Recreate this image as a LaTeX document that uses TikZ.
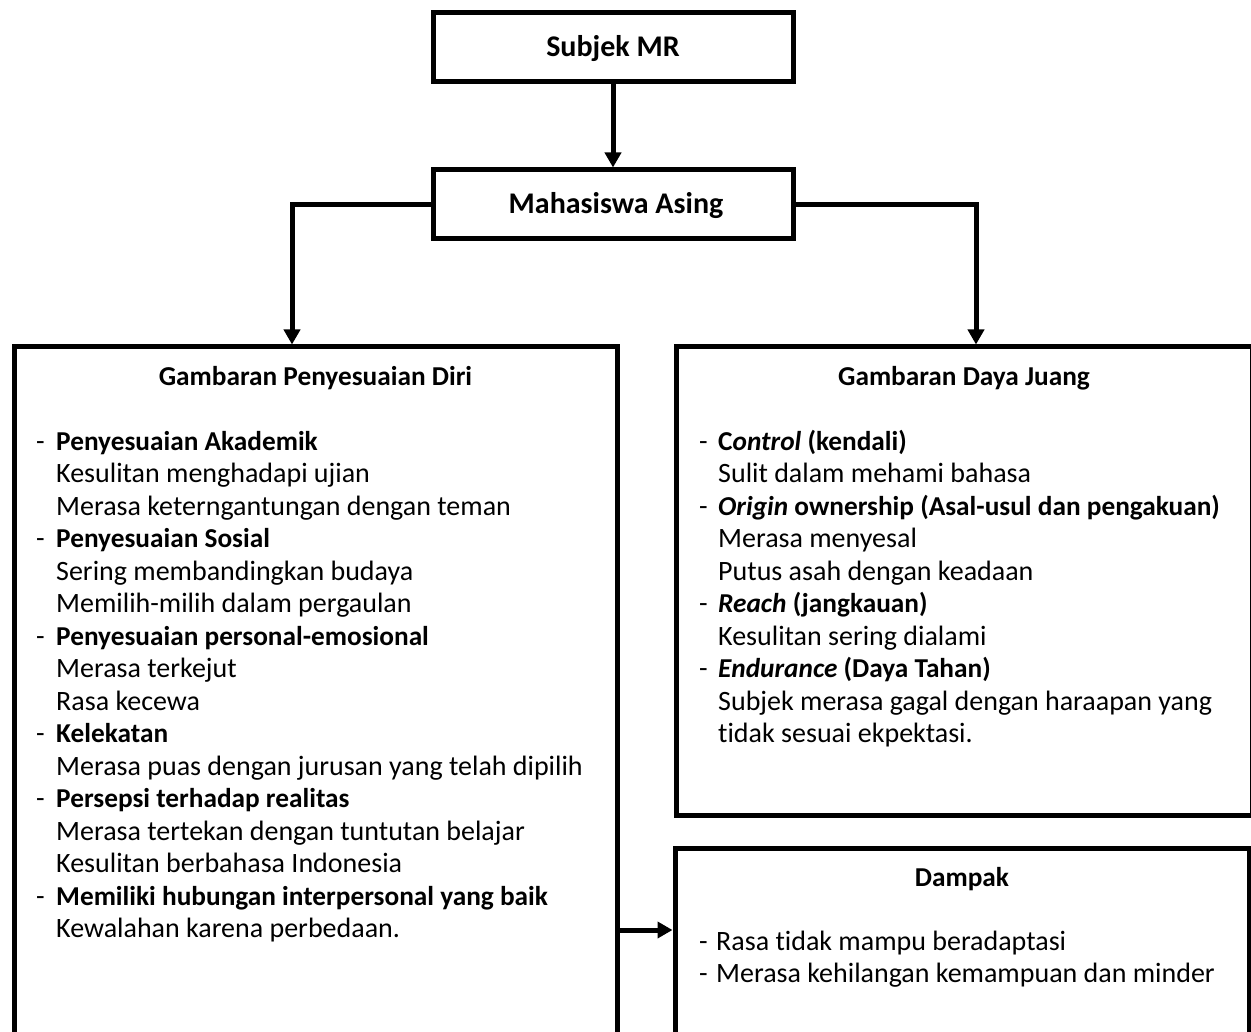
\documentclass[tikz,border=0pt]{standalone}
\usepackage{fontspec}
\setmainfont[Ligatures=NoCommon]{Carlito}
\usetikzlibrary{arrows.meta}
\newcommand\bitem[1]{{\fontsize{27.3}{32.5}\selectfont\bfseries #1}}
\begin{document}
\begin{tikzpicture}[x=1pt,y=1pt,
  box/.style={draw=black, line width=5pt, fill=white, inner sep=0pt},
  arr/.style={line width=5pt, -{Triangle[length=15pt,width=16pt]}},
  txt/.style={anchor=base west, inner sep=0pt, font=\fontsize{28}{32.5}\selectfont},
  ttl/.style={anchor=base, inner sep=0pt, font=\fontsize{27.3}{32.5}\selectfont\bfseries},
  top/.style={anchor=base, inner sep=0pt, font=\fontsize{30}{32.5}\selectfont\bfseries}]
\useasboundingbox (0,0) rectangle (1251,-1032);
\clip (0,0) rectangle (1251,-1032);
\fill[white] (0,0) rectangle (1251,-1032);
% boxes
\node[box, minimum width=360pt, minimum height=69pt] (s) at (613,-47.5) {};
\node[box, minimum width=360pt, minimum height=69pt] (m) at (613,-204.5) {};
\node[box, minimum width=603pt, minimum height=698pt] (lb) at (315.5,-696) {};
\node[box, minimum width=576pt, minimum height=468pt] (rb) at (964,-581) {};
\node[box, minimum width=574pt, minimum height=197pt] (db) at (962,-946.5) {};
% titles
\node[top] (st) at (613,-57) {Subjek MR};
\node[top] (mt) at (616,-214) {Mahasiswa Asing};
\node[ttl] (lt) at (315.5,-385) {Gambaran Penyesuaian Diri};
\node[ttl] (rt) at (964,-385) {Gambaran Daya Juang};
\node[ttl] (dt) at (962,-886) {Dampak};
% connectors
\draw[arr] (s) -- (m);
\draw[arr] (m.west) -| ([xshift=-23.5pt]lb.north);
\draw[arr] (m.east) -| ([xshift=12pt]rb.north);
\path ([yshift=16.5pt]db.west) coordinate (dw);
\draw[arr] (lb.east |- dw) -- (dw);
% left list
\foreach \t [count=\k from 0] in {
  {\bitem{Penyesuaian Akademik}},
  Kesulitan menghadapi ujian,
  Merasa keterngantungan dengan teman,
  {\bitem{Penyesuaian Sosial}},
  Sering membandingkan budaya,
  Memilih-milih dalam pergaulan,
  {\bitem{Penyesuaian personal-emosional}},
  Merasa terkejut,
  Rasa kecewa,
  {\bitem{Kelekatan}},
  Merasa puas dengan jurusan yang telah dipilih,
  {\bitem{Persepsi terhadap realitas}},
  Merasa tertekan dengan tuntutan belajar,
  Kesulitan berbahasa Indonesia,
  {\bitem{Memiliki hubungan interpersonal yang baik}},
  Kewalahan karena perbedaan.}
  \node[txt] (L\k) at (56,{-450-32.5*\k}) {\t};
\foreach \k in {0,3,6,9,11,14}
  \node[txt] (Ld\k) at (36,{-450-32.5*\k}) {-};
% right list
\foreach \t [count=\k from 0] in {
  {\bitem{C\textit{ontrol} (kendali)}},
  Sulit dalam mehami bahasa,
  {\bitem{\textit{Origin} ownership (Asal-usul dan pengakuan)}},
  Merasa menyesal,
  Putus asah dengan keadaan,
  {\bitem{\textit{Reach} (jangkauan)}},
  Kesulitan sering dialami,
  {\bitem{\textit{Endurance} (Daya Tahan)}},
  Subjek merasa gagal dengan haraapan yang,
  tidak sesuai ekpektasi.}
  \node[txt] (R\k) at (718,{-450-32.5*\k}) {\t};
\foreach \k in {0,2,5,7}
  \node[txt] (Rd\k) at (699,{-450-32.5*\k}) {-};
% dampak list
\foreach \t [count=\k from 0] in {
  Rasa tidak mampu beradaptasi,
  Merasa kehilangan kemampuan dan minder}
  {\node[txt] (D\k) at (716,{-950-32.5*\k}) {\t};
   \node[txt] (Dd\k) at (699,{-950-32.5*\k}) {-};}
\end{tikzpicture}
\end{document}
